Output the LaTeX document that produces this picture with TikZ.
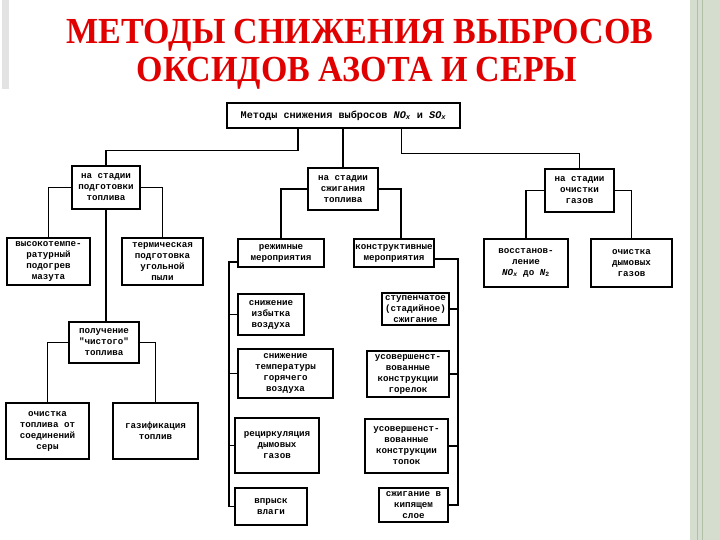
\documentclass[tikz,border=0pt]{standalone}
\usepackage{fontspec}
\setmainfont{Liberation Serif}
\setmonofont{Liberation Mono}
\usetikzlibrary{positioning}

\definecolor{sage}{RGB}{213,221,206}
\definecolor{sageline}{RGB}{178,191,168}

\begin{document}
\begin{tikzpicture}[
        x=1pt, y=-1pt,
        font=\ttfamily\bfseries\fontsize{9.2}{11}\selectfont,
        % Titulo de la diapositiva
        heading/.style={
            text=red!88!black,
            font=\rmfamily\bfseries\fontsize{34}{38}\selectfont,
            inner sep=0pt,
            yscale=1.08
        },
        % Caja del esquema (ancho, alto)
        method/.style 2 args={
            draw=black,
            fill=white,
            line width=1.3pt,
            rectangle,
            align=center,
            inner sep=1pt,
            minimum width=#1pt,
            minimum height=#2pt
        },
        % Lineas de union
        link/.style={line width=1.2pt, color=black}
    ]

        % Fondo y marco de la pagina
        \fill[white] (0,0) rectangle (720,540);
        \useasboundingbox (0,0) rectangle (720,540);
        \fill[gray!22] (2,0) rectangle (9,89);
        \fill[sage] (690,0) rectangle (720,540);
        \draw[sageline, line width=1pt] (697,0) -- (697,540);
        \draw[sageline, line width=1pt] (702,0) -- (702,540);

        % Titulo
        \node[heading] (title1) at (360,35) {МЕТОДЫ СНИЖЕНИЯ ВЫБРОСОВ};
        \node[heading] (title2) at (357,73) {ОКСИДОВ АЗОТА И СЕРЫ};

        % 1. Caja superior
        \node[method={233}{25}, font=\ttfamily\bfseries\fontsize{10.2}{12}\selectfont] (top) at (343.5,115.5)
            {Методы снижения выбросов \textit{NO}\textsubscript{\textit{x}} и \textit{SO}\textsubscript{\textit{x}}};

        % 2. Las tres etapas
        \node[method={68}{43}] (st1) at (106,187.5) {на стадии\\подготовки\\топлива};
        \node[method={70}{42}] (st2) at (343,189) {на стадии\\сжигания\\топлива};
        \node[method={69}{43}] (st3) at (579.5,190.5) {на стадии\\очистки\\газов};

        % 3. Rama izquierda (preparacion del combustible)
        \node[method={83}{47}] (p1) at (48.5,261.5) {высокотемпе-\\ратурный\\подогрев\\мазута};
        \node[method={81}{47}] (p2) at (162.5,261.5) {термическая\\подготовка\\угольной\\пыли};
        \node[method={70}{41}] (p3) at (104,342.5) {получение\\"чистого"\\топлива};
        \node[method={83}{56}] (p4) at (47.5,431) {очистка\\топлива от\\соединений\\серы};
        \node[method={85}{56}] (p5) at (155.5,431) {газификация\\топлив};

        % 4. Rama central (combustion)
        \node[method={86}{28}] (m1) at (281,253) {режимные\\мероприятия};
        \node[method={80}{28}] (m2) at (394,253) {конструктивные\\мероприятия};

        \node[method={66}{41}] (r1) at (271,314.5) {снижение\\избытка\\воздуха};
        \node[method={95}{49}] (r2) at (285.5,373.5) {снижение\\температуры\\горячего\\воздуха};
        \node[method={84}{55}] (r3) at (277,445.5) {рециркуляция\\дымовых\\газов};
        \node[method={72}{37}] (r4) at (271,506.5) {впрыск\\влаги};

        \node[method={67}{32}] (k1) at (415.5,309) {ступенчатое\\(стадийное)\\сжигание};
        \node[method={82}{46}] (k2) at (408,374) {усовершенст-\\вованные\\конструкции\\горелок};
        \node[method={83}{54}] (k3) at (406.5,446) {усовершенст-\\вованные\\конструкции\\топок};
        \node[method={69}{34}] (k4) at (413.5,505) {сжигание в\\кипящем\\слое};

        % 5. Rama derecha (depuracion de gases)
        \node[method={84}{48}] (g1) at (526,263)
            {восстанов-\\ление\\\textit{NO}\textsubscript{\textit{x}} до \textit{N}\textsubscript{2}};
        \node[method={81}{48}] (g2) at (631.5,263) {очистка\\дымовых\\газов};

        % Conexiones desde la caja superior
        \draw[link] ([xshift=-45.5pt]top.south) -- ++(0,22) -| (st1.north);
        \draw[link] (st2.north) -- (st2.north |- top.south);
        \draw[link] ([xshift=58pt]top.south) -- ++(0,25) -| (st3.north);

        % Conexiones de la rama izquierda
        \draw[link] (st1.west) -| (p1.north);
        \draw[link] (st1.east) -| (p2.north);
        \draw[link] (st1.south) -- (st1.south |- p3.north);
        \draw[link] (p3.west) -| (p4.north);
        \draw[link] (p3.east) -| (p5.north);

        % Conexiones de la rama central
        \draw[link] (st2.west) -| (m1.north);
        \draw[link] (st2.east) -| ([xshift=7pt]m2.north);

        \coordinate (lbus) at (229,262);
        \draw[link] ([yshift=-9pt]m1.west) -- (lbus) |- (r4.west);
        \foreach \n in {r1,r2,r3}
            \draw[link] (\n.west) -- (\n.west -| lbus);

        \coordinate (rbus) at (458,259);
        \draw[link] ([yshift=-6pt]m2.east) -- (rbus) |- (k4.east);
        \foreach \n in {k1,k2,k3}
            \draw[link] (\n.east) -- (\n.east -| rbus);

        % Conexiones de la rama derecha
        \draw[link] (st3.west) -| (g1.north);
        \draw[link] (st3.east) -| (g2.north);

    \end{tikzpicture}
\end{document}
